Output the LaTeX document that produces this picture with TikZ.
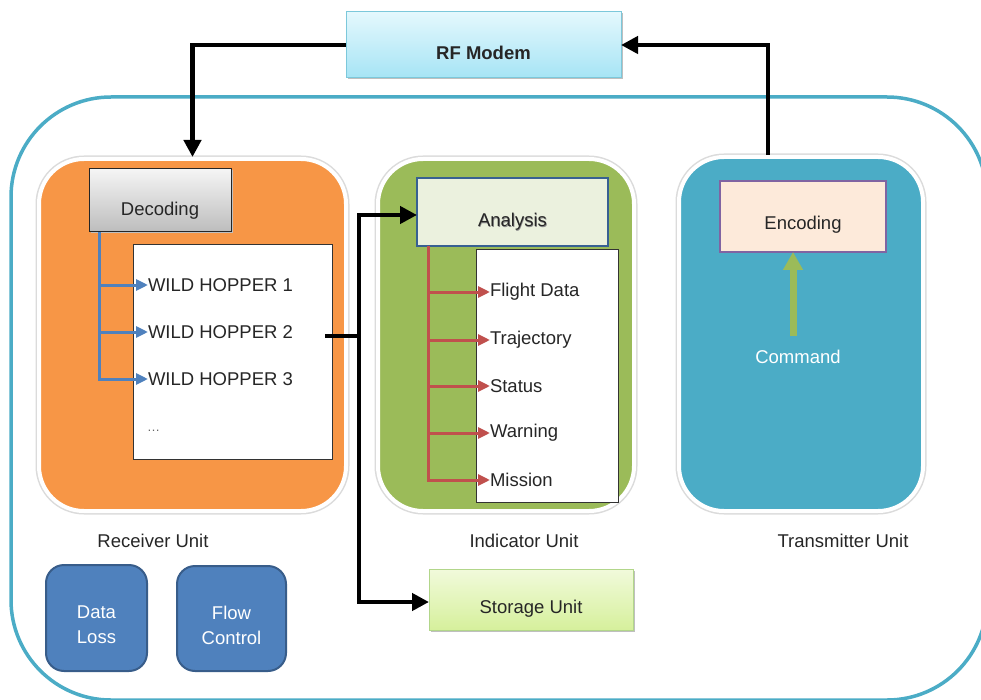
\documentclass[tikz,border=0pt]{standalone}
\usepackage{fontspec}
\setmainfont{Liberation Sans}
\usetikzlibrary{arrows.meta}

\definecolor{ringteal}{HTML}{4BACC6}
\definecolor{recvorange}{HTML}{F79646}
\definecolor{indgreen}{HTML}{9BBB59}
\definecolor{transteal}{HTML}{4BACC6}
\definecolor{hopblue}{HTML}{4F81BD}
\definecolor{anred}{HTML}{C0504D}
\definecolor{txtdark}{HTML}{262626}
\definecolor{anfill}{HTML}{EBF1DE}
\definecolor{anedge}{HTML}{376092}
\definecolor{encfill}{HTML}{FDEADA}
\definecolor{encedge}{HTML}{8064A2}
\definecolor{btnedge}{HTML}{385D8A}
\definecolor{modtop}{HTML}{E4F8FD}
\definecolor{modbot}{HTML}{A6E4F5}
\definecolor{modedge}{HTML}{7CC8DB}
\definecolor{stotop}{HTML}{F1FADB}
\definecolor{stobot}{HTML}{D6F09C}
\definecolor{stoedge}{HTML}{B2D68A}

\newcommand\dfont{\fontsize{18.5}{25}\selectfont}

\begin{document}
\begin{tikzpicture}[x=1pt,y=-1pt,font=\dfont,
  every node/.style={inner sep=0pt,outer sep=0pt,text=txtdark},
  unitbox/.style={draw=white,line width=4pt,rounded corners=45pt,
    preaction={draw=black!14,line width=7pt}},
  listbox/.style={draw=black!80,line width=0.8pt,fill=white},
  itemtxt/.style={anchor=west},
  softshadow/.style={preaction={fill=black!25,transform canvas={xshift=1.5pt,yshift=-1.5pt}}},
  conn/.style={line width=4.5pt,draw=black,-{Triangle[length=17pt,width=17pt]}},
  connplain/.style={line width=4.5pt,draw=black},
  bluearr/.style={line width=3pt,draw=hopblue,-{Triangle[length=12pt,width=11pt]}},
  redarr/.style={line width=3pt,draw=anred,-{Triangle[length=12pt,width=11pt]}},
  grnarr/.style={line width=7pt,draw=indgreen,-{Triangle[length=18pt,width=19pt]}},
  sqbtn/.style={fill=hopblue,draw=btnedge,line width=2pt,rounded corners=18pt}]

\useasboundingbox (0,0) rectangle (981,700);

% outer ring round the three units
\begin{scope}
  \clip (0,0) rectangle (981,700);
  \draw[ringteal,line width=3.5pt,rounded corners=100pt] (11,97) rectangle (987,700);
\end{scope}

% RF modem
\node[softshadow,draw=modedge,line width=1pt,top color=modtop,bottom color=modbot,
  minimum width=275pt,minimum height=66pt,
  label={[yshift=-8pt,font=\dfont\bfseries]center:RF Modem}] (modem) at (483.5,45) {};

% the three units
\node[unitbox,fill=recvorange,minimum width=307pt,minimum height=352pt] (recv) at (192.5,335) {};
\node[unitbox,fill=indgreen,minimum width=256pt,minimum height=352pt] (ind) at (506,335) {};
\node[unitbox,fill=transteal,minimum width=244pt,minimum height=354pt] (trans) at (801,334) {};

\node (recvlbl) at (153,541) {Receiver Unit};
\node (indlbl) at (524,541) {Indicator Unit};
\node (translbl) at (843,541) {Transmitter Unit};

% receiver contents
\node[listbox,minimum width=199pt,minimum height=215pt] (hoplist) at (232.5,351.5) {};
\node[softshadow,draw=black!85,line width=1pt,top color=black!4,bottom color=black!26,
  minimum width=142pt,minimum height=63pt,
  label={[yshift=-10pt]center:Decoding}] (dec) at (160,200.5) {};
\node[itemtxt] (h1) at (148,285) {WILD HOPPER 1};
\node[itemtxt] (h2) at (148,332) {WILD HOPPER 2};
\node[itemtxt] (h3) at (148,379) {WILD HOPPER 3};
\node[itemtxt,text=black!60,font=\fontsize{13}{14}\selectfont] (hdots) at (147,431) {\dots};
\foreach \h in {h1,h2,h3}
  \draw[bluearr] ([xshift=10pt]dec.south west) |- (\h.west);

% indicator contents
\node[listbox,minimum width=142pt,minimum height=253pt] (anlist) at (547,375.5) {};
\node[fill=anfill,draw=anedge,line width=2.5pt,minimum width=191pt,minimum height=68pt,
  label={[yshift=-10.6pt,xshift=0.6pt,text=black!45]center:Analysis},
  label={[yshift=-10pt]center:Analysis}] (ana) at (512.5,212) {};
\node[itemtxt] (fd) at (490,292) {Flight Data};
\node[itemtxt] (tr) at (490,340) {Trajectory};
\node[itemtxt] (st) at (490,386) {Status};
\node[itemtxt] (wa) at (490,433) {Warning};
\node[itemtxt] (mi) at (490,480) {Mission};
\foreach \a in {fd,tr,st,wa,mi}
  \draw[redarr] ([xshift=11pt]ana.south west) |- (\a.west);

% transmitter contents
\node[fill=encfill,draw=encedge,line width=2.5pt,minimum width=166pt,minimum height=71pt,
  label={[yshift=-8pt]center:Encoding}] (enc) at (803,216.5) {};
\node[text=white] (cmd) at (798,357) {Command};
\draw[grnarr] ([xshift=-5pt]cmd.north |- 0,336) -- ([xshift=-10pt]enc.south);

% storage and the two status buttons
\node[softshadow,draw=stoedge,line width=1pt,top color=stotop,bottom color=stobot,
  minimum width=204pt,minimum height=61pt,
  label={[yshift=-9pt]center:Storage Unit}] (store) at (531,599.5) {};
\node[sqbtn,minimum width=101pt,minimum height=106pt,
  label={[yshift=-7pt,align=center,text=white]center:Data\\Loss}] (loss) at (96.5,618) {};
\node[sqbtn,minimum width=109pt,minimum height=105pt,
  label={[yshift=-7pt,align=center,text=white]center:Flow\\Control}] (flow) at (231.5,618.5) {};

% radio link
\draw[conn] (modem.west) -| ([yshift=2pt]recv.north);
\draw[conn] ([xshift=-33pt,yshift=2pt]trans.north) |- (modem.east);

% hopper data to analysis and storage
\coordinate (tap) at (325,336);
\coordinate (split) at (359,336);
\draw[connplain] (tap) -- (split);
\draw[conn] (split) |- ([yshift=-3pt]ana.west);
\draw[conn] (split) |- ([yshift=-2.5pt]store.west);

\end{tikzpicture}
\end{document}
